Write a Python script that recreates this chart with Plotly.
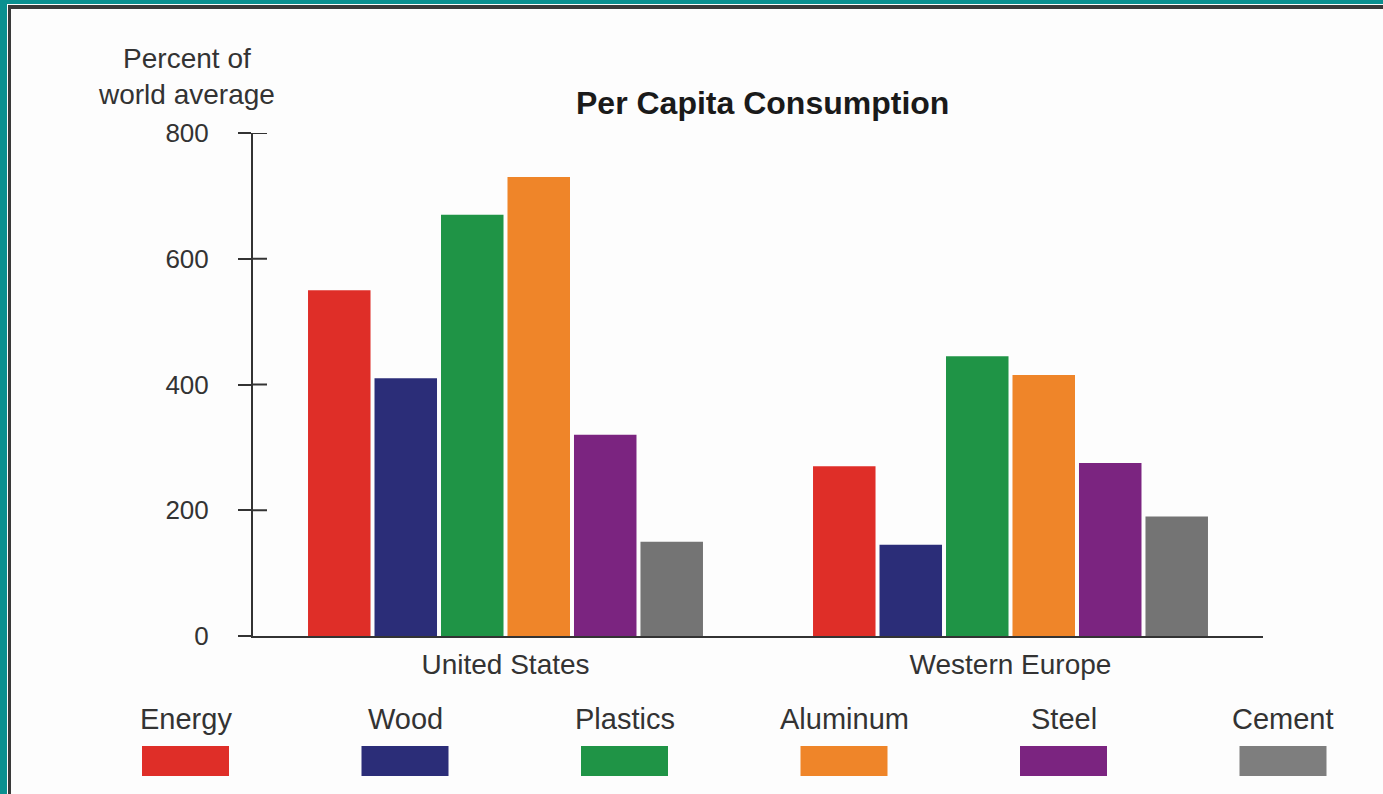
import plotly.graph_objects as go

regions = ["United States", "Western Europe"]
materials = ["Energy", "Wood", "Plastics", "Aluminum", "Steel", "Cement"]
colors = ["#DF2E28", "#2B2D78", "#1F9446", "#EF8529", "#7B2480", "#747474"]
legend_colors = ["#DF2E28", "#2B2D78", "#1F9446", "#EF8529", "#7B2480", "#7E7E7E"]

energy = [550, 270]
wood = [410, 145]
plastics = [670, 445]
aluminum = [730, 415]
steel = [320, 275]
cement = [150, 190]
series = [energy, wood, plastics, aluminum, steel, cement]

y_ticks = [0, 200, 400, 600, 800]
y_title = "Percent of<br>world average"
title = "Per Capita Consumption"

W, H = 1383, 794
L, R, T, B = 253, 1263, 133, 636
FONT = "Liberation Sans, Arial, sans-serif"
TXT = "#333333"


def px(x):
    return (x - L) / (R - L)


def py(y):
    return (B - y) / (B - T)


fig = go.Figure()
for name, vals, col in zip(materials, series, colors):
    fig.add_trace(go.Bar(x=regions, y=vals, name=name, marker=dict(color=col, line=dict(width=0)),
                         showlegend=False))

shapes = []
# inside halves of the cross ticks
for v in y_ticks[1:]:
    shapes.append(dict(type="line", xref="paper", yref="y", x0=0, x1=px(L + 14), y0=v, y1=v,
                       line=dict(color=TXT, width=2)))
# legend swatches
centers = [185.5, 405, 624.5, 844, 1063.5, 1283]
annotations = []
for name, col, c in zip(materials, legend_colors, centers):
    shapes.append(dict(type="rect", xref="paper", yref="paper", x0=px(c - 43.5), x1=px(c + 43.5),
                       y0=py(776), y1=py(746), fillcolor=col, line=dict(width=0), layer="above"))
    annotations.append(dict(xref="paper", yref="paper", x=px(c), y=py(719), text=name, showarrow=False,
                            xanchor="center", yanchor="middle", font=dict(family=FONT, size=29, color=TXT)))
# frame: teal border + dark line
shapes += [
    dict(type="rect", xref="paper", yref="paper", x0=px(0), x1=px(7), y0=py(H), y1=py(0),
         fillcolor="#0A9090", line=dict(width=0), layer="above"),
    dict(type="rect", xref="paper", yref="paper", x0=px(0), x1=px(W), y0=py(4), y1=py(0),
         fillcolor="#0A9090", line=dict(width=0), layer="above"),
    dict(type="rect", xref="paper", yref="paper", x0=px(8), x1=px(11), y0=py(H), y1=py(5),
         fillcolor="#3a3a3a", line=dict(width=0), layer="above"),
    dict(type="rect", xref="paper", yref="paper", x0=px(8), x1=px(W), y0=py(9), y1=py(5),
         fillcolor="#3a3a3a", line=dict(width=0), layer="above"),
]
annotations.append(dict(xref="paper", yref="paper", x=px(186), y=py(76), text=y_title, showarrow=False,
                        xanchor="center", yanchor="middle", align="center",
                        font=dict(family=FONT, size=28, color=TXT)))
annotations.append(dict(xref="paper", yref="paper", x=px(762), y=py(103), text="<b>" + title + "</b>",
                        showarrow=False, xanchor="center", yanchor="middle",
                        font=dict(family=FONT, size=32, color="#1a1a1a")))

fig.update_layout(
    width=W, height=H,
    margin=dict(l=L, r=W - R, t=T, b=H - B, pad=0),
    paper_bgcolor="#FDFDFD", plot_bgcolor="#FDFDFD",
    barmode="group", bargap=0.21, bargroupgap=0.06,
    shapes=shapes, annotations=annotations,
    xaxis=dict(type="category", range=[-0.5, 1.5], showline=True, linecolor=TXT, linewidth=2,
               ticks="", showgrid=False, zeroline=False, fixedrange=True,
               tickfont=dict(family=FONT, size=28, color=TXT), ticklabelstandoff=2),
    yaxis=dict(range=[0, 800], tickvals=y_ticks, ticks="outside", ticklen=13, tickwidth=2,
               tickcolor=TXT, showline=True, linecolor=TXT, linewidth=2, showgrid=False,
               zeroline=False, fixedrange=True, ticklabelstandoff=24,
               tickfont=dict(family=FONT, size=26, color=TXT)),
)
fig.write_html("out.html", config={"displayModeBar": False})
